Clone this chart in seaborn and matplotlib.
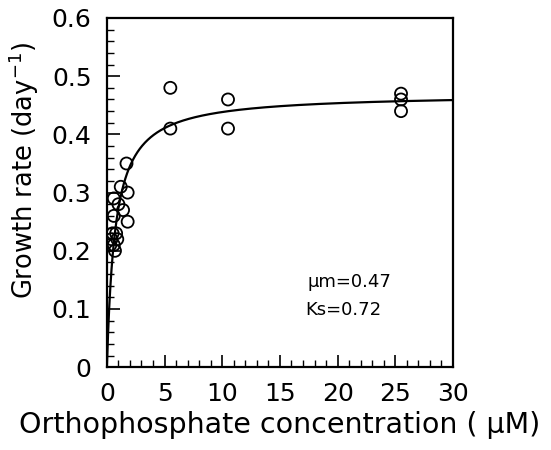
import matplotlib
matplotlib.use("Agg")
import matplotlib.pyplot as plt
import numpy as np
import pandas as pd
import seaborn as sns
from matplotlib.ticker import MultipleLocator

sns.set_style("ticks")
plt.rcParams["font.family"] = ["DejaVu Sans"]
plt.rcParams["text.color"] = "black"
plt.rcParams["axes.labelcolor"] = "black"
plt.rcParams["xtick.color"] = "black"
plt.rcParams["ytick.color"] = "black"

# observed growth rates
conc = [1.7, 1.2, 1.8, 1.0, 0.6, 1.4, 0.6, 1.8, 0.8, 0.4, 0.6, 0.9, 0.7, 0.3, 0.5,
        5.5, 5.5, 10.5, 10.5, 25.5, 25.5, 25.5]
rate = [0.35, 0.31, 0.30, 0.28, 0.29, 0.27, 0.26, 0.25, 0.23, 0.22, 0.21, 0.22, 0.20,
        0.21, 0.23, 0.48, 0.41, 0.46, 0.41, 0.47, 0.46, 0.44]

# Monod fit parameters shown on the chart
mu_m = 0.47
ks = 0.72

df = pd.DataFrame({"conc": conc, "rate": rate})
xfit = np.linspace(0, 30, 600)
fit = pd.DataFrame({"conc": xfit, "rate": mu_m * xfit / (ks + xfit)})

fig = plt.figure(figsize=(5.51, 4.5), dpi=100)
ax = fig.add_axes([0.194, 0.184, 0.628, 0.776])

sns.lineplot(data=fit, x="conc", y="rate", color="black", lw=1.6, ax=ax)
sns.scatterplot(data=df, x="conc", y="rate", marker="o", s=75,
                facecolor="none", edgecolor="black", linewidth=1.3, ax=ax, zorder=3)

ax.set_xlim(0, 30)
ax.set_ylim(0, 0.6)
ax.xaxis.set_major_locator(MultipleLocator(5))
ax.xaxis.set_minor_locator(MultipleLocator(1))
ax.yaxis.set_major_locator(MultipleLocator(0.1))
ax.yaxis.set_minor_locator(MultipleLocator(0.02))
ax.yaxis.set_major_formatter(plt.FuncFormatter(lambda v, p: "0" if abs(v) < 1e-9 else f"{v:.1f}"))
ax.tick_params(which="major", direction="in", length=9, width=1.2, labelsize=18, pad=11)
ax.tick_params(which="minor", direction="in", length=5, width=1.0)
for s in ax.spines.values():
    s.set_linewidth(1.6)
    s.set_color("black")

ax.set_xlabel("Orthophosphate concentration ( μM)", fontsize=20.5, labelpad=3)
ax.set_ylabel("Growth rate (day$^{-1}$)", fontsize=18.5)
ax.yaxis.set_label_coords(-0.19, 0.565)

ax.text(17.4, 0.146, "μm=0.47", fontsize=13, va="center", ha="left")
ax.text(17.2, 0.098, "Ks=0.72", fontsize=13, va="center", ha="left")

fig.savefig("out.png", dpi=100)
